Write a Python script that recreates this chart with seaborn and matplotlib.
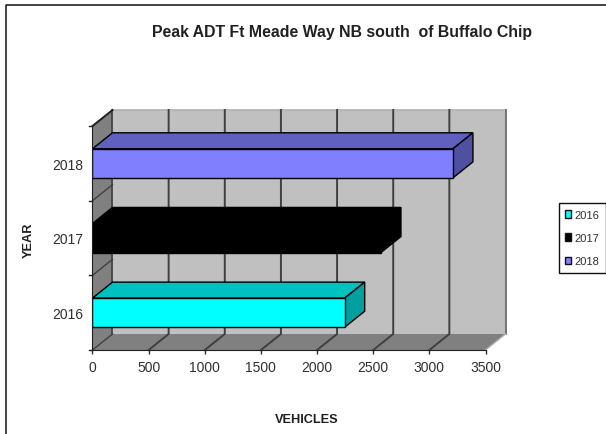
import matplotlib
matplotlib.use('Agg')
import matplotlib.pyplot as plt
from matplotlib.lines import Line2D
from matplotlib.patches import Polygon, Patch
import pandas as pd
import seaborn as sns

years = ['2018', '2017', '2016']
vehicles = [3210, 2569, 2246]
front_colors = ['#8080ff', '#000000', '#00ffff']
top_colors = ['#6060c0', '#000000', '#00c0c0']
side_colors = ['#5050a0', '#000000', '#00a0a0']
x_ticks = [0, 500, 1000, 1500, 2000, 2500, 3000, 3500]

W, H = 606, 435
plt.rcParams['font.family'] = ['Liberation Sans', 'DejaVu Sans']

fig = plt.figure(figsize=(W / 100, H / 100), dpi=100)
ax = fig.add_axes([92.5 / W, 1 - 351 / H, 393 / W, 224 / H])

df = pd.DataFrame({'year': years, 'vehicles': vehicles})

# depth of the fake 3d box, in data units
dx = 20 / 393 * 3500
dy = 16 / 224 * 3
dark = '#404040'

# walls and floor go in first
ax.add_patch(Polygon([(dx, 2.5 - dy), (3500 + dx, 2.5 - dy), (3500 + dx, -0.5 - dy), (dx, -0.5 - dy)],
                     fc='#c0c0c0', ec='none', zorder=0, clip_on=False))
ax.add_patch(Polygon([(0, 2.5), (dx, 2.5 - dy), (3500 + dx, 2.5 - dy), (3500, 2.5)],
                     fc='#808080', ec='none', zorder=0.5, clip_on=False))
ax.add_patch(Polygon([(0, 2.5), (dx, 2.5 - dy), (dx, -0.5 - dy), (0, -0.5)],
                     fc='#808080', ec='none', zorder=0.5, clip_on=False))
ax.plot([dx, 3500 + dx], [-0.5 - dy, -0.5 - dy], color='#b0b0b0', lw=1.2, zorder=0.6, clip_on=False)
ax.plot([3500 + dx, 3500 + dx], [-0.5 - dy, 2.5 - dy], color='#606060', lw=1.2, zorder=0.6, clip_on=False)
ax.plot([3500 + dx, 3500], [2.5 - dy, 2.5], color='#b0b0b0', lw=1, zorder=0.6, clip_on=False)
for t in x_ticks[1:-1]:
    ax.plot([t, t + dx, t + dx], [2.5, 2.5 - dy, -0.5 - dy], color=dark, lw=1.4, zorder=1, clip_on=False)
ax.plot([dx, dx], [-0.5 - dy, 2.5 - dy], color=dark, lw=1.2, zorder=1, clip_on=False)
ax.plot([0, dx], [2.5, 2.5 - dy], color=dark, lw=1, zorder=1, clip_on=False)
ax.plot([0, dx], [-0.5, -0.5 - dy], color='#202020', lw=1.4, zorder=1, clip_on=False)
for k in [0.5, 1.5]:
    ax.plot([0, dx], [k, k - dy], color=dark, lw=1, zorder=1, clip_on=False)

sns.barplot(data=df, x='vehicles', y='year', order=years, orient='h', width=0.39, ax=ax,
            hue='year', hue_order=years, palette=front_colors, legend=False, saturation=1,
            edgecolor='#000000', linewidth=1, zorder=3)

for i, v in enumerate(vehicles):
    lo, hi = i - 0.195, i + 0.195
    ax.add_patch(Polygon([(0, lo), (dx, lo - dy), (v + dx, lo - dy), (v, lo)],
                         fc=top_colors[i], ec='#000000', lw=1, zorder=2.5, clip_on=False))
    ax.add_patch(Polygon([(v, lo), (v + dx, lo - dy), (v + dx, hi - dy), (v, hi)],
                         fc=side_colors[i], ec='#000000', lw=1, zorder=2.5, clip_on=False))

ax.set_xlim(0, 3500)
ax.set_ylim(2.5, -0.5)
ax.set_xticks(x_ticks)
ax.set_yticks([0, 1, 2])
ax.set_yticklabels(years)
# ticks between categories like the excel axis
ax.tick_params(axis='y', length=0, labelsize=10, pad=7, colors='#303030')
ax.tick_params(axis='x', length=3, width=1, labelsize=10, pad=4, colors='#303030')
for k in [-0.5, 0.5, 1.5, 2.5]:
    ax.plot([-27, 0], [k, k], color='#202020', lw=1, clip_on=False, zorder=4)
for s in ['top', 'right']:
    ax.spines[s].set_visible(False)
for s in ['left', 'bottom']:
    ax.spines[s].set_color('#202020')
    ax.spines[s].set_zorder(5)
ax.set_xlabel('')
ax.set_ylabel('')

fig.text(342.5 / W, 1 - 32 / H, 'Peak ADT Ft Meade Way NB south  of Buffalo Chip', ha='center', va='center',
         fontsize=11.4, fontweight='bold', color='#202020')
fig.text(307 / W, 1 - 420 / H, 'VEHICLES', ha='center', va='center', fontsize=9.2, fontweight='bold', color='#202020')
fig.text(29 / W, 1 - 240 / H, 'YEAR', ha='center', va='center', rotation=90, fontsize=9.2, fontweight='bold', color='#202020')

# outer chart border, only top and left are inside the crop
fig.add_artist(Line2D([5.5 / W, 5.5 / W, 1], [0, 1 - 6 / H, 1 - 6 / H], color='#101010', lw=1.1))

handles = [Patch(fc=front_colors[i], ec='#101010', label=years[i]) for i in [2, 1, 0]]
leg = fig.legend(handles=handles, loc='center left', bbox_to_anchor=(558.7 / W, 1 - 239 / H), frameon=True, fancybox=False,
                 edgecolor='#101010', framealpha=1, fontsize=8, handlelength=0.55, handleheight=0.7, handletextpad=0.3,
                 labelspacing=1.2, borderpad=0.6, borderaxespad=0)
for t in leg.get_texts():
    t.set_color('#303030')

fig.savefig('out.png', dpi=100)
